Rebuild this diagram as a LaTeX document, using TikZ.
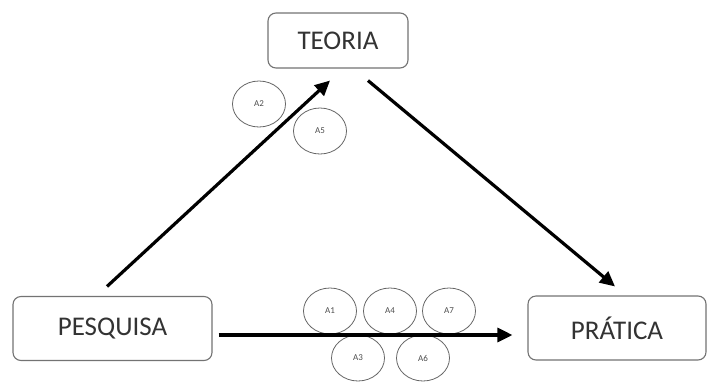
\documentclass[tikz,border=0pt]{standalone}
\usepackage{fontspec}
\setmainfont{Carlito}
\usetikzlibrary{arrows.meta,shapes.geometric}
\begin{document}
\begin{tikzpicture}[x=1pt,y=-1pt,
  boxnode/.style={draw=black!55,line width=1.1pt,rounded corners=8pt,fill=white,inner sep=0pt,
    font=\fontsize{27}{30}\selectfont,text=black!80},
  circnode/.style={draw=black!60,line width=0.8pt,ellipse,minimum width=53pt,minimum height=46pt,inner sep=0pt,
    font=\fontsize{9}{10}\selectfont,text=black!70},
  arr/.style={line width=3.2pt,-{Triangle[length=15pt,width=14pt]}}]
\useasboundingbox (0,0) rectangle (708,383);
\node[boxnode,minimum width=140pt,minimum height=55pt] (teo) at (338,40.5) {TEORIA};
\node[boxnode,minimum width=199pt,minimum height=64pt] (pesq) at (112.5,328.5) {PESQUISA};
\node[boxnode,minimum width=178pt,minimum height=64pt] (prat) at (617,328) {PRÁTICA};

\node[circnode] (a2) at (259,104) {A2};
\node[circnode] (a5) at (320,131) {A5};
\node[circnode] (a1) at (330,311) {A1};
\node[circnode] (a4) at (390,311) {A4};
\node[circnode] (a7) at (449,311) {A7};
\node[circnode] (a3) at (358,358) {A3};
\node[circnode] (a6) at (423,358) {A6};

\draw[arr] ([xshift=-5.5pt,yshift=9.5pt]pesq.north) -- ([xshift=-8pt,yshift=-12pt]teo.south);
\draw[arr] ([xshift=30pt,yshift=-12pt]teo.south) -- ([xshift=-2pt,yshift=9pt]prat.north);
\draw[arr] ([xshift=6pt,yshift=-6.5pt]pesq.east) -- ([xshift=-15pt,yshift=-7pt]prat.west);
\end{tikzpicture}
\end{document}
